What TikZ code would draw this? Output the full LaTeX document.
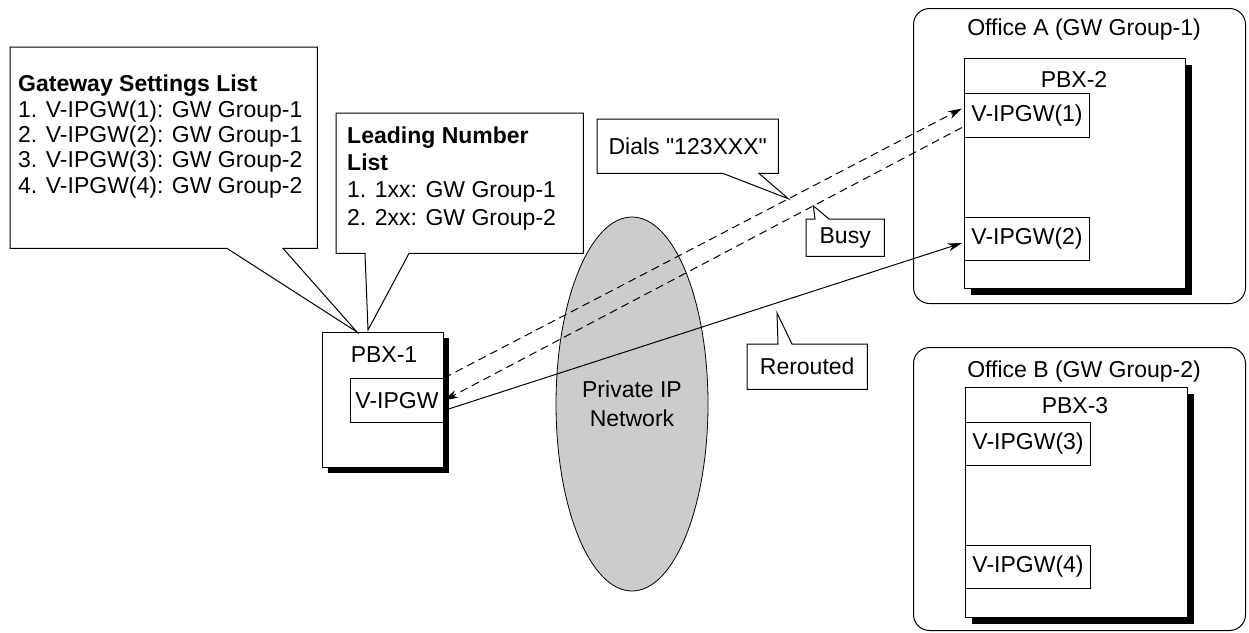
\documentclass[tikz,border=0pt]{standalone}
\usepackage{fontspec}
\setmainfont{Liberation Sans}
\usetikzlibrary{calc,arrows.meta,shapes.geometric}
\definecolor{netgray}{RGB}{204,204,204}
\begin{document}
\begin{tikzpicture}[x=1pt,y=-1pt,
  txt/.style={inner sep=0pt, font=\fontsize{23}{26}\selectfont},
  box/.style={draw, line width=1pt, fill=white, inner sep=0pt, anchor=north west, font=\fontsize{23}{26}\selectfont},
  office/.style={draw, line width=1pt, rounded corners=16pt, inner sep=0pt, anchor=north west},
  shade/.style={fill=black},
  calarea/.style={inner sep=0pt, anchor=north west, font=\fontsize{23}{26}\selectfont},
  callout/.style={draw, line width=1pt, line join=miter},
  conn/.style={line width=1pt, -{Stealth[length=14pt,width=8pt,inset=4pt]}},
  dashconn/.style={conn, dash pattern=on 8pt off 5pt},
]
\useasboundingbox (0,0) rectangle (1249,632);

% Private IP network
\node[ellipse, draw, line width=0.8pt, fill=netgray, minimum width=152pt, minimum height=374pt,
      inner sep=0pt, align=center, font=\fontsize{23}{29}\selectfont] (net) at (632,404) {Private IP\\Network};

% Office A
\node[office, minimum width=332pt, minimum height=295pt] (offA) at (913,8) {};
\node[txt, anchor=base] (offAt) at (1084,35) {Office A (GW Group-1)};
\fill[shade] (971,65) rectangle (1192,295);
\node[box, minimum width=221pt, minimum height=230pt] (pbx2) at (964,58) {};
\node[txt, anchor=base] (pbx2t) at (1074,87) {PBX-2};
\node[box, minimum width=125pt, minimum height=44pt] (gw1) at (964,93) {V-IPGW(1)};
\node[box, minimum width=125pt, minimum height=43pt] (gw2) at (964,217) {V-IPGW(2)};

% Office B
\node[office, minimum width=332pt, minimum height=283pt] (offB) at (913,347) {};
\node[txt, anchor=base] (offBt) at (1084,377) {Office B (GW Group-2)};
\fill[shade] (972,394) rectangle (1194,624);
\node[box, minimum width=222pt, minimum height=230pt] (pbx3) at (965,387) {};
\node[txt, anchor=base] (pbx3t) at (1075,413) {PBX-3};
\node[box, minimum width=125pt, minimum height=43pt] (gw3) at (965,422) {V-IPGW(3)};
\node[box, minimum width=125pt, minimum height=43pt] (gw4) at (965,545) {V-IPGW(4)};

% PBX-1
\fill[shade] (328,338) rectangle (449,473);
\node[box, minimum width=121pt, minimum height=135pt] (pbx1) at (322,332) {};
\node[txt, anchor=base] (pbx1t) at (384,362) {PBX-1};
\node[box, minimum width=93pt, minimum height=44pt] (gw0) at (350,378) {V-IPGW};

% connectors
\coordinate (d1e) at ($(gw1.west)+(-2,-7)$);
\coordinate (d2s) at ($(gw1.west)+(-2,12)$);
\draw[dashconn] (gw0.north east) -- (d1e);
\draw[dashconn] (d2s) -- (gw0.east);
\draw[conn] ($(gw0.east)+(0,10)$) -- ($(gw2.west)+(-2,4)$);

% Gateway settings callout
\node[calarea, minimum width=307pt, minimum height=201pt] (gs) at (10,47) {};
\coordinate (gstip) at ($(pbx1.north west)+(35,0)$);
\draw[callout] (gs.north west) -- (gs.north east) -- (gs.south east) -- ($(gs.south west)+(273,0)$)
  -- (gstip) -- ($(gs.south west)+(217,0)$) -- (gs.south west) -- cycle;
\node[txt, anchor=base west, align=left, font=\fontsize{23}{25.3}\selectfont] (gst) at (18,193)
  {\textbf{Gateway Settings List}\\1. V-IPGW(1): GW Group-1\\2. V-IPGW(2): GW Group-1\\3. V-IPGW(3): GW Group-2\\4. V-IPGW(4): GW Group-2};

% Leading number callout
\node[calarea, minimum width=247pt, minimum height=140pt] (ln) at (336,113) {};
\coordinate (lntip) at ($(pbx1.north west)+(46,-2)$);
\draw[callout] (ln.north west) -- (ln.north east) -- (ln.south east) -- ($(ln.south west)+(73,0)$)
  -- (lntip) -- ($(ln.south west)+(29,0)$) -- (ln.south west) -- cycle;
\node[txt, anchor=base west, align=left, font=\fontsize{23}{27.2}\selectfont] (lnt) at (347,225)
  {\textbf{Leading Number}\\\textbf{List}\\1. 1xx: GW Group-1\\2. 2xx: GW Group-2};

% Dials callout
\node[calarea, minimum width=181pt, minimum height=54pt] (dials) at (597,119) {Dials \textquotedbl 123XXX\textquotedbl};
\coordinate (dialstip) at ($(gw0.north east)!0.665!(d1e)$);
\draw[callout] (dials.north west) -- (dials.north east) -- (dials.south east) -- ($(dials.south west)+(162,0)$)
  -- (dialstip) -- ($(dials.south west)+(126,0)$) -- (dials.south west) -- cycle;

% Busy callout
\node[calarea, minimum width=78pt, minimum height=37pt] (busy) at (806,219) {Busy};
\coordinate (busytip) at ($(d2s)!0.287!(gw0.east)$);
\draw[callout] (busy.south west) -- (busy.north west) -- ($(busy.north west)+(9,0)$) -- (busytip)
  -- ($(busy.north west)+(23,0)$) -- (busy.north east) -- (busy.south east) -- cycle;

% Rerouted callout
\node[calarea, minimum width=120pt, minimum height=45pt] (rer) at (747,344) {Rerouted};
\coordinate (rertip) at (777,313);
\draw[callout] (rer.south west) -- (rer.north west) -- ($(rer.north west)+(31,0)$) -- (rertip)
  -- ($(rer.north west)+(45,0)$) -- (rer.north east) -- (rer.south east) -- cycle;
\end{tikzpicture}
\end{document}
